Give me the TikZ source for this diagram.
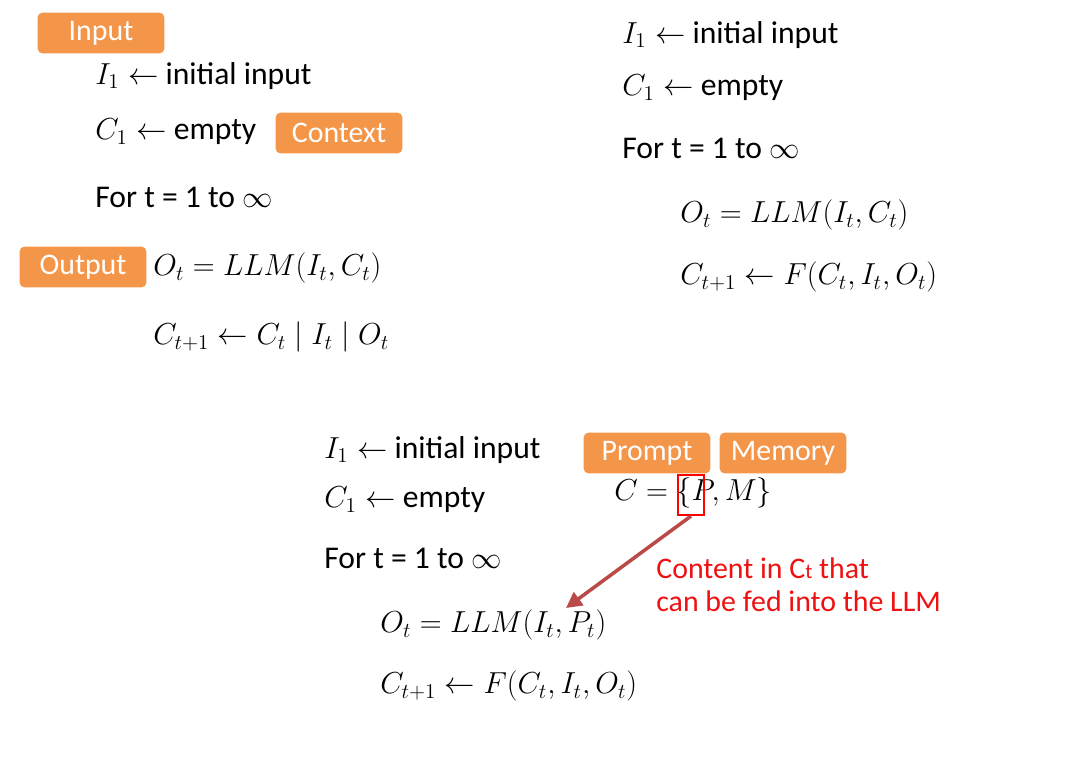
\documentclass[tikz,border=0pt]{standalone}
\usepackage{fontspec}
\setmainfont{Carlito}
\usepackage{xcolor}
\usepackage{tikz}
\usetikzlibrary{positioning,arrows.meta}
\definecolor{tagorange}{HTML}{F4964A}
\definecolor{notered}{HTML}{EE1111}
\definecolor{arrowred}{HTML}{B94A48}

\begin{document}
\begin{tikzpicture}[x=0.02cm, y=-0.02cm,
  tagbox/.style={fill=tagorange, rounded corners=3pt, text=white, font=\fontsize{17}{20}\selectfont, minimum width=2.54cm, minimum height=0.82cm, inner sep=0pt},
  algline/.style={anchor=west, inner sep=0pt, font=\fontsize{18}{21}\selectfont},
  noteline/.style={anchor=west, inner sep=0pt, text=notered, font=\fontsize{17}{20}\selectfont},
  hlbox/.style={draw=red, line width=1.2pt, inner sep=0pt, minimum width=0.52cm, minimum height=0.8cm},
  calloutarrow/.style={-{Triangle[length=9pt,width=9pt]}, arrowred, line width=2pt},
]
\useasboundingbox (0,0) rectangle (1080,757);

% Left block: plain concatenation
\node[tagbox] (tagin) at (101,33) {Input};
\node[algline] (la) at (95,76) {$I_1 \leftarrow$ initial input};
\node[algline] (lb) at (95,132) {$C_1 \leftarrow$ empty};
\node[tagbox] (tagctx) at (339,133) {Context};
\node[algline] (lc) at (95,197) {For t = 1 to $\infty$};
\node[tagbox] (tagout) at (83,267) {Output};
\node[algline] (ld) at (153,268) {$O_t = LLM(I_t, C_t)$};
\node[algline] (le) at (153,337) {$C_{t+1} \leftarrow C_t \mid I_t \mid O_t$};

% Right block: update function
\node[algline] (ra) at (622,35) {$I_1 \leftarrow$ initial input};
\node[algline] (rb) at (622,88) {$C_1 \leftarrow$ empty};
\node[algline] (rc) at (622,148) {For t = 1 to $\infty$};
\node[algline] (rd) at (680,215) {$O_t = LLM(I_t, C_t)$};
\node[algline] (re) at (680,277) {$C_{t+1} \leftarrow F(C_t, I_t, O_t)$};

% Bottom block: prompt and memory
\node[algline] (ba) at (324,450) {$I_1 \leftarrow$ initial input};
\node[algline] (bb) at (324,500) {$C_1 \leftarrow$ empty};
\node[algline] (bc) at (324,558) {For t = 1 to $\infty$};
\node[algline] (bd) at (380,625) {$O_t = LLM(I_t, P_t)$};
\node[algline] (be) at (380,686) {$C_{t+1} \leftarrow F(C_t, I_t, O_t)$};
\node[tagbox] (tagprm) at (647,453) {Prompt};
\node[tagbox] (tagmem) at (783,453) {Memory};
\node[algline] (cdef) at (614,493) {$C = \{P, M\}$};
\node[hlbox] (pbox) at (691,495) {};

% Callout
\node[noteline] (na) at (656,568) {Content in C{\fontsize{12}{12}\selectfont t} that};
\node[noteline] (nb) at (656,601) {can be fed into the LLM};
\coordinate (ptgt) at (566,608);
\draw[calloutarrow] (pbox.south) -- (ptgt);
\end{tikzpicture}
\end{document}
